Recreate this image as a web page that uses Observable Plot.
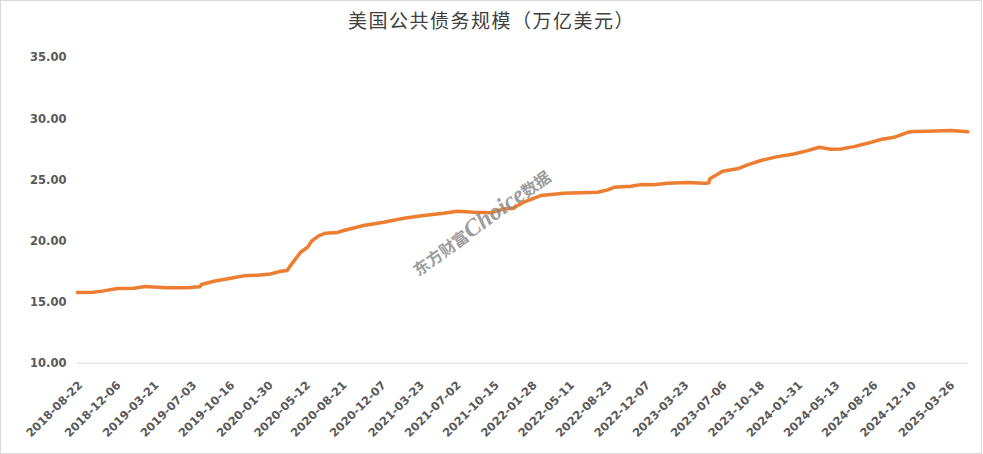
<!DOCTYPE html>
<html>
<head>
<meta charset="utf-8">
<script src="https://cdn.jsdelivr.net/npm/d3@7"></script>
<script src="https://cdn.jsdelivr.net/npm/@observablehq/plot@0.6"></script>
<style>
  html, body { margin: 0; padding: 0; background: #fff; }
  #wrap { position: relative; width: 983px; height: 454px; overflow: hidden; background: #fff; }
  #title { height: 40px; line-height: 40px; text-align: center; font-family: "Noto Sans CJK SC", sans-serif; font-size: 19px; color: #404040; letter-spacing: 1.5px; }
  #border { position: absolute; left: 0; top: 0; width: 982px; height: 454px; box-sizing: border-box; border: 1px solid #d9d9d9; pointer-events: none; }
  #wm { position: absolute; left: 481px; top: 222px; transform: translate(-50%, -50%) rotate(-36deg); white-space: nowrap; color: #8c8c8c; opacity: 0.85; }
  #wm .cn { font-family: "Noto Sans CJK SC", sans-serif; font-weight: bold; font-size: 16px; }
  #wm .en { font-family: "Liberation Serif", "DejaVu Serif", serif; font-weight: bold; font-style: italic; font-size: 24px; }
</style>
</head>
<body>
<div id="wrap">
  <div id="title">美国公共债务规模（万亿美元）</div>
  <div id="chart"></div>
  <div id="wm"><span class="cn">东方财富</span><span class="en">Choice</span><span class="cn">数据</span></div>
  <div id="border"></div>
</div>
<script>
// Dates and values (trillion USD)
const dates = [
  "2018-08-22","2018-10-05","2018-11-02","2018-12-10","2019-01-24","2019-02-26","2019-03-30","2019-04-27",
  "2019-06-21","2019-07-26","2019-07-30","2019-09-03","2019-10-19","2019-11-24","2019-12-31","2020-02-06",
  "2020-03-05","2020-03-23","2020-04-01","2020-04-29","2020-05-18","2020-05-31","2020-06-19","2020-07-07",
  "2020-08-08","2020-08-26","2020-10-20","2020-12-14","2021-02-08","2021-04-04","2021-05-29","2021-07-06",
  "2021-08-20","2021-10-06","2021-11-11","2021-12-08","2021-12-14","2022-01-05","2022-02-21","2022-04-26",
  "2022-07-28","2022-08-25","2022-09-11","2022-10-28","2022-11-24","2022-12-30","2023-02-06","2023-04-02",
  "2023-05-17","2023-05-31","2023-06-03","2023-07-08","2023-08-18","2023-09-15","2023-10-22","2023-12-07",
  "2024-01-21","2024-02-28","2024-03-31","2024-05-02","2024-05-30","2024-07-05","2024-08-11","2024-09-17",
  "2024-10-23","2024-11-30","2024-12-17","2025-01-24","2025-03-29","2025-05-15"
];
const values = [
  15.79,15.81,15.92,16.11,16.14,16.28,16.22,16.17,
  16.17,16.25,16.44,16.71,16.96,17.15,17.20,17.31,
  17.53,17.59,17.99,19.08,19.49,20.04,20.45,20.64,
  20.70,20.86,21.27,21.54,21.87,22.09,22.28,22.44,
  22.36,22.31,22.63,22.68,22.82,23.18,23.72,23.91,
  23.99,24.19,24.40,24.48,24.62,24.60,24.73,24.79,
  24.73,24.76,25.09,25.71,25.91,26.24,26.59,26.91,
  27.13,27.40,27.68,27.51,27.54,27.73,28.00,28.31,
  28.49,28.90,28.96,28.99,29.04,28.94
];
const tickLabels = [
  "2018-08-22","2018-12-06","2019-03-21","2019-07-03","2019-10-16","2020-01-30","2020-05-12","2020-08-21",
  "2020-12-07","2021-03-23","2021-07-02","2021-10-15","2022-01-28","2022-05-11","2022-08-23","2022-12-07",
  "2023-03-23","2023-07-06","2023-10-18","2024-01-31","2024-05-13","2024-08-26","2024-12-10","2025-03-26"
];
const yTicks = [10, 15, 20, 25, 30, 35];

const parse = d3.utcParse("%Y-%m-%d");
const data = dates.map((d, i) => ({date: parse(d), value: values[i]}));
const xTicks = tickLabels.map(parse);

const chart = Plot.plot({
  width: 983,
  height: 414,
  marginLeft: 77,
  marginRight: 15,
  marginTop: 17.3,
  marginBottom: 91.3,
  style: {fontFamily: "'DejaVu Sans', sans-serif", fontWeight: "bold", fontSize: "11px", color: "#595959", background: "transparent"},
  x: {type: "utc", domain: [parse("2018-08-22"), parse("2025-05-17")]},
  y: {domain: [10, 35]},
  marks: [
    Plot.ruleY([10], {stroke: "#d9d9d9", strokeWidth: 1}),
    Plot.axisY({ticks: yTicks, tickFormat: d3.format(".2f"), tickSize: 0, tickPadding: 11, label: null, fontSize: 11.5}),
    Plot.axisX({ticks: xTicks, tickFormat: d3.utcFormat("%Y-%m-%d"), tickRotate: -45, tickSize: 0, tickPadding: 20, dx: 3, label: null, fontSize: 11.5}),
    Plot.line(data, {x: "date", y: "value", stroke: "#ED7D31", strokeWidth: 3.5, strokeLinejoin: "round", strokeLinecap: "round"})
  ]
});
document.getElementById("chart").appendChild(chart);
</script>
</body>
</html>
